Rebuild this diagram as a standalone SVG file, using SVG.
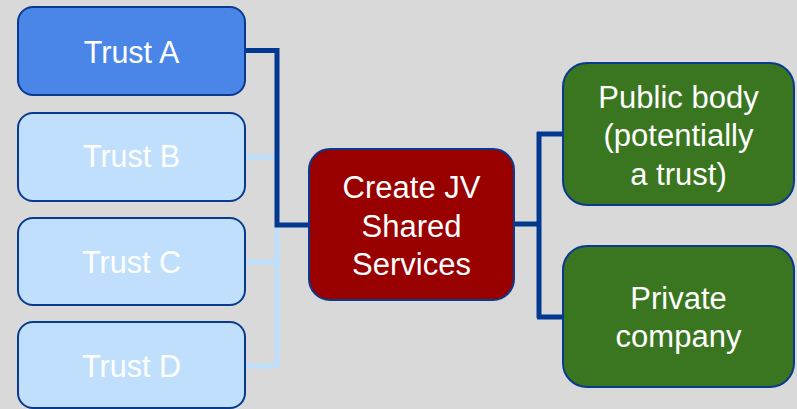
<svg xmlns="http://www.w3.org/2000/svg" width="797" height="409" viewBox="0 0 797 409">
  <style>
    .box { stroke: #0A3A8E; stroke-width: 2; }
    .lbl { font-family: "Liberation Sans", Arial, sans-serif; fill: #FFFFFF; text-anchor: middle; }
    .trust { font-size: 30.5px; }
    .big { font-size: 31px; }
    .dark { fill: none; stroke: #023890; stroke-width: 5; stroke-linejoin: miter; }
    .light { fill: none; stroke: #BDDFFB; stroke-width: 5; }
  </style>
  <rect width="797" height="409" fill="#D9D9D9"/>

  <!-- connectors -->
  <g id="connectors">
    <path class="light" d="M245 157 H277 M277 225 V366 M245 262 H277 M245 366 H277"/>
    <path class="dark" d="M245 50.5 H277 V225 H310"/>
    <path class="dark" d="M514 224 H539 M539 132 V318 M537 134 H564 M537 317 H564"/>
  </g>

  <g id="trust-a">
    <rect class="box" x="18" y="7" width="227" height="88" rx="15" fill="#4A86E8"/>
    <text class="lbl trust" x="131.5" y="63">Trust A</text>
  </g>
  <g id="trust-b">
    <rect class="box" x="18" y="113" width="227" height="88" rx="15" fill="#C0DFFC"/>
    <text class="lbl trust" x="131.5" y="167">Trust B</text>
  </g>
  <g id="trust-c">
    <rect class="box" x="18" y="218" width="227" height="87" rx="15" fill="#C0DFFC"/>
    <text class="lbl trust" x="131.5" y="273">Trust C</text>
  </g>
  <g id="trust-d">
    <rect class="box" x="18" y="322" width="227" height="86" rx="15" fill="#C0DFFC"/>
    <text class="lbl trust" x="131.5" y="377">Trust D</text>
  </g>

  <g id="jv">
    <rect class="box" x="309" y="149" width="205" height="151" rx="21" fill="#990000"/>
    <text class="lbl big" x="411.5" y="198">Create JV</text>
    <text class="lbl big" x="411.5" y="237">Shared</text>
    <text class="lbl big" x="411.5" y="275">Services</text>
  </g>

  <g id="public-body">
    <rect class="box" x="563" y="63" width="231" height="142" rx="24" fill="#3A7620"/>
    <text class="lbl big" x="678.5" y="108">Public body</text>
    <text class="lbl big" x="678.5" y="146">(potentially</text>
    <text class="lbl big" x="678.5" y="185">a trust)</text>
  </g>

  <g id="private-company">
    <rect class="box" x="563" y="246" width="231" height="141" rx="24" fill="#3A7620"/>
    <text class="lbl big" x="678.5" y="309">Private</text>
    <text class="lbl big" x="678.5" y="347">company</text>
  </g>
</svg>
